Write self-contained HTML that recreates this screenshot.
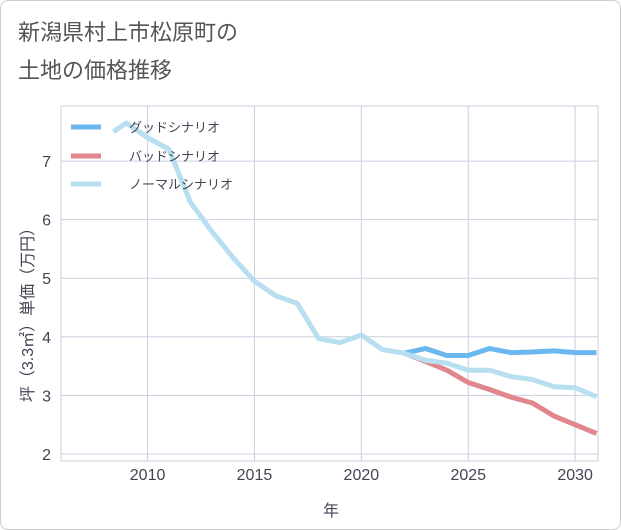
<!DOCTYPE html>
<html><head><meta charset="utf-8"><style>
body{margin:0;background:#fff;}
#card{position:absolute;left:0;top:0;width:619px;height:528px;border:1px solid #ccc;border-radius:8px;background:#fff;overflow:hidden;}
.t{position:absolute;left:17px;font:22px "Liberation Sans","Noto Sans CJK JP",sans-serif;color:#555;}
svg text{font-family:"Liberation Sans","Noto Sans CJK JP",sans-serif;}
</style></head><body>
<div id="card">
<div class="t" style="top:14px">新潟県村上市松原町の</div>
<div class="t" style="top:52px">土地の価格推移</div>
<svg id="c" width="621" height="530" style="position:absolute;left:0;top:0"></svg>
</div>
<script>
const xTicks=[2010,2015,2020,2025,2030];
const yTicks=[2,3,4,5,6,7];
const normalYears=[2008.4,2009,2010,2011,2012,2013,2014,2015,2016,2017,2018,2019,2020,2021,2022,2023,2024,2025,2026,2027,2028,2029,2030,2031];
const normalVals=[7.5,7.65,7.4,7.2,6.3,5.8,5.35,4.95,4.7,4.57,3.97,3.9,4.03,3.78,3.72,3.6,3.55,3.43,3.43,3.32,3.27,3.15,3.13,2.98];
const futYears=[2022,2023,2024,2025,2026,2027,2028,2029,2030,2031];
const goodVals=[3.72,3.8,3.68,3.68,3.8,3.73,3.74,3.76,3.73,3.73];
const badVals=[3.72,3.58,3.43,3.22,3.1,2.97,2.87,2.65,2.5,2.35];
const L=60,R=597,T=105,B=460;
const x=v=>L+(v-2005.95)*(R-L)/(2031.07-2005.95);
const y=v=>B-(v-1.88)*(B-T)/(7.94-1.88);
const s=document.getElementById('c'),NS='http://www.w3.org/2000/svg';
function mk(t,a,p){const e=document.createElementNS(NS,t);for(const k in a)e.setAttribute(k,a[k]);(p||s).appendChild(e);return e;}
let r=mk('rect',{x:L,y:T,width:R-L,height:B-T,fill:'none',stroke:'#ccd',});


xTicks.forEach(v=>{let g=mk('line',{x1:x(v),x2:x(v),y1:T,y2:B,stroke:'#c8d0e0'});


let t=mk('text',{x:x(v),y:479,'text-anchor':'middle','font-size':16,fill:'#445'});t.textContent=v;

});
yTicks.forEach(v=>{let g=mk('line',{x1:L,x2:R,y1:y(v),y2:y(v),stroke:'#c8d0e0'});


let t=mk('text',{x:50,y:y(v)+6,'text-anchor':'end','font-size':16,fill:'#445'});t.textContent=v;

});
function line(xs,vs,c,n){let p=mk('polyline',{points:xs.map((v,i)=>x(v)+','+y(vs[i])).join(' '),fill:'none',stroke:c,'stroke-width':5,'stroke-linejoin':'round'});

}
line(futYears,goodVals,'#6bb8f0','good-scenario-line');
line(futYears,badVals,'#e0868c','bad-scenario-line');
line(normalYears,normalVals,'#b8dff0','normal-scenario-line');
const leg=[['グッドシナリオ','#6bb8f0',126],['バッドシナリオ','#e0868c',155],['ノーマルシナリオ','#b8dff0',183]];
leg.forEach(d=>{let l=mk('line',{x1:70,x2:100,y1:d[2],y2:d[2],stroke:d[1],'stroke-width':5});


let t=mk('text',{x:128,y:d[2]+5,'font-size':13,fill:'#445'});t.textContent=d[0];

});
let xt=mk('text',{x:330,y:515,'text-anchor':'middle','font-size':16,fill:'#445'});xt.textContent='年';


let yt=mk('text',{x:0,y:0,'text-anchor':'middle','font-size':16,fill:'#445',transform:'translate(32,310) rotate(-90)'});yt.textContent='坪（3.3㎡）単価（万円）';


</script>
</body></html>
